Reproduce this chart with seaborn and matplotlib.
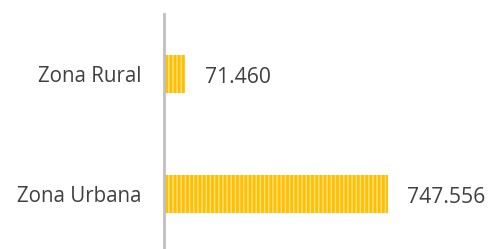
import matplotlib
matplotlib.use("Agg")
import matplotlib.pyplot as plt
import seaborn as sns
import pandas as pd

categories = ["Zona Rural", "Zona Urbana"]
values = [71460, 747556]

df = pd.DataFrame({"zona": categories, "total": values})

def fmt(v):
    return f"{v:,}".replace(",", ".")

sns.set_theme(style="white")
plt.rcParams["font.family"] = ["Open Sans", "DejaVu Sans"]
plt.rcParams["hatch.linewidth"] = 1.0

fig = plt.figure(figsize=(4.89, 2.49), dpi=100)
ax = fig.add_axes([0.335, 0.0, 0.521, 0.944])

sns.barplot(data=df, x="total", y="zona", orient="h", color="#FFC000",
            width=0.31, ax=ax, saturation=1)
for p in ax.patches:
    p.set_hatch("||||")
    p.set_edgecolor("#FFE08A")
    p.set_linewidth(0)

ax.set_xlim(0, 850000)
ax.set_ylim(1.458, -0.5)
ax.set_xlabel("")
ax.set_ylabel("")
ax.set_xticks([])
for s in ["top", "right", "bottom"]:
    ax.spines[s].set_visible(False)
ax.spines["left"].set_color("#BFBFBF")
ax.spines["left"].set_linewidth(2)
ax.tick_params(axis="y", length=0, pad=16, labelsize=14.8, labelcolor="#404040")

for i, v in enumerate(values):
    ax.annotate(fmt(v), (v, i), xytext=(14, -1), textcoords="offset points",
                va="center_baseline", ha="left", fontsize=15.2, color="#404040",
                annotation_clip=False)

fig.savefig("out.png", dpi=100)
